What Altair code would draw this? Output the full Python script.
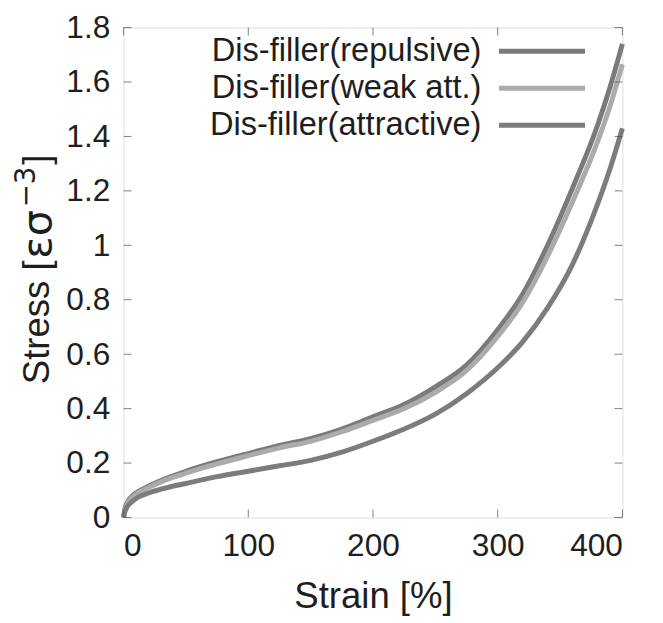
import altair as alt
import pandas as pd

# ---- data ----
strain = [0, 1, 3, 6, 10, 20, 35, 50, 75, 100, 125, 150, 175, 200, 225, 250,
          275, 300, 320, 340, 360, 380, 390, 400]
repulsive = [0.0, 0.03, 0.055, 0.075, 0.09, 0.115, 0.145, 0.17, 0.205, 0.235,
             0.265, 0.29, 0.325, 0.37, 0.415, 0.48, 0.56, 0.69, 0.82, 1.0,
             1.21, 1.44, 1.58, 1.74]
weak_att = [0.0, 0.025, 0.05, 0.07, 0.085, 0.11, 0.14, 0.163, 0.197, 0.227,
            0.256, 0.28, 0.315, 0.357, 0.40, 0.46, 0.54, 0.665, 0.79, 0.96,
            1.16, 1.38, 1.51, 1.665]
attractive = [0.0, 0.02, 0.04, 0.055, 0.07, 0.09, 0.11, 0.125, 0.15, 0.17,
              0.19, 0.21, 0.24, 0.28, 0.325, 0.38, 0.455, 0.55, 0.645, 0.77,
              0.93, 1.15, 1.28, 1.43]

series_names = ["Dis-filler(repulsive)", "Dis-filler(weak att.)",
                "Dis-filler(attractive)"]
series_colors = ["#7a7a7a", "#ababab", "#7c7c7c"]
x_ticks = [0, 100, 200, 300, 400]
y_ticks = [0, 0.2, 0.4, 0.6, 0.8, 1.0, 1.2, 1.4, 1.6, 1.8]

TOP = 24
W, H = 505, 520 - TOP
FONT = "Liberation Sans"
FRAME = "#4a4a4a"
TXT = "#1e1e1e"

rows = []
for name, vals in zip(series_names, [repulsive, weak_att, attractive]):
    for s, v in zip(strain, vals):
        rows.append({"strain": s, "stress": v, "series": name})
df = pd.DataFrame(rows)

xscale = alt.Scale(domain=[0, 400], nice=False, zero=False)
yscale = alt.Scale(domain=[0, 1.8], nice=False, zero=False)
cscale = alt.Scale(domain=series_names, range=series_colors)

x_axis = alt.Axis(values=x_ticks, grid=False, domain=False, ticks=False,
                  labelFont=FONT, labelFontSize=32, labelColor=TXT,
                  labelPadding=13, title="Strain [%]", titleFont=FONT,
                  titleFontSize=37, titleFontWeight="normal", titleColor=TXT,
                  titleX=W / 2, titleY=80, titleBaseline="middle")
y_axis = alt.Axis(values=y_ticks, grid=False, domain=False, ticks=False,
                  labelFont=FONT, labelFontSize=32, labelColor=TXT,
                  labelPadding=14, labelExpr="format(datum.value, '~g')",
                  title=None)


def X(field):
    return alt.X(field, scale=xscale, axis=x_axis)


def Y(field):
    return alt.Y(field, scale=yscale, axis=y_axis)


layers = []
for name in series_names:
    layers.append(
        alt.Chart(df).transform_filter(alt.datum.series == name)
        .mark_line(strokeWidth=5, strokeCap="butt", strokeJoin="round",
                   interpolate="monotone")
        .encode(x=X("strain:Q"), y=Y("stress:Q"),
                color=alt.Color("series:N", scale=cscale, legend=None))
    )

# inward ticks (gnuplot style) on all four sides
ydf = pd.DataFrame({"v": y_ticks})
xdf = pd.DataFrame({"v": x_ticks})
tick_left = alt.Chart(ydf).mark_tick(orient="horizontal", size=8, thickness=1,
                                     color=FRAME).encode(
    y=Y("v:Q"), x=alt.value(4))
tick_right = alt.Chart(ydf).mark_tick(orient="horizontal", size=8, thickness=1,
                                      color=FRAME).encode(
    y=Y("v:Q"), x=alt.value(W - 4))
tick_bottom = alt.Chart(xdf).mark_tick(orient="vertical", size=8, thickness=1,
                                       color=FRAME).encode(
    x=X("v:Q"), y=alt.value(H - 4))
tick_top = alt.Chart(xdf).mark_tick(orient="vertical", size=8, thickness=1,
                                    color=FRAME).encode(
    x=X("v:Q"), y=alt.value(4))

# gnuplot-like key: label text then line sample
key_y = [1.713, 1.577, 1.441]
leg = pd.DataFrame({"series": series_names, "ly": key_y,
                    "tx": [287] * 3, "x1": [301] * 3, "x2": [370] * 3})
key_text = alt.Chart(leg).mark_text(align="right", baseline="middle",
                                    font=FONT, fontSize=33, color=TXT).encode(
    x=X("tx:Q"), y=Y("ly:Q"), text="series:N")
key_line = alt.Chart(leg).mark_rule(strokeWidth=5).encode(
    x=X("x1:Q"), x2="x2:Q", y=Y("ly:Q"),
    color=alt.Color("series:N", scale=cscale, legend=None))

# y-axis title "Stress [εσ^-3]" with a real superscript, rotated
TX = -86


def ytitle(text, y_abs, size=37, dx=0, font=FONT):
    return alt.Chart(ydf.head(1)).mark_text(
        angle=270, align="left", baseline="middle", font=font,
        fontSize=size, color=TXT).encode(
        x=alt.value(TX + dx), y=alt.value(y_abs - TOP), text=alt.value(text))


yt1 = ytitle("Stress [", 385)
yt2 = ytitle("εσ", 258, size=42, font="DejaVu Sans")
yt3 = ytitle("−3", 206, size=28, dx=-12, font="DejaVu Sans")
yt4 = ytitle("]", 163)

chart = alt.layer(
    *layers, tick_left, tick_right, tick_bottom, tick_top, key_text, key_line,
    yt1, yt2, yt3, yt4
).properties(
    width=W, height=H,
    autosize=alt.AutoSizeParams(type="none"),
    padding={"left": 117, "top": TOP - 8, "right": 33, "bottom": 102},
).configure_view(stroke=FRAME, strokeWidth=1.2).configure(background="white")

chart.save("out.html", embed_options={"renderer": "svg", "actions": False})
